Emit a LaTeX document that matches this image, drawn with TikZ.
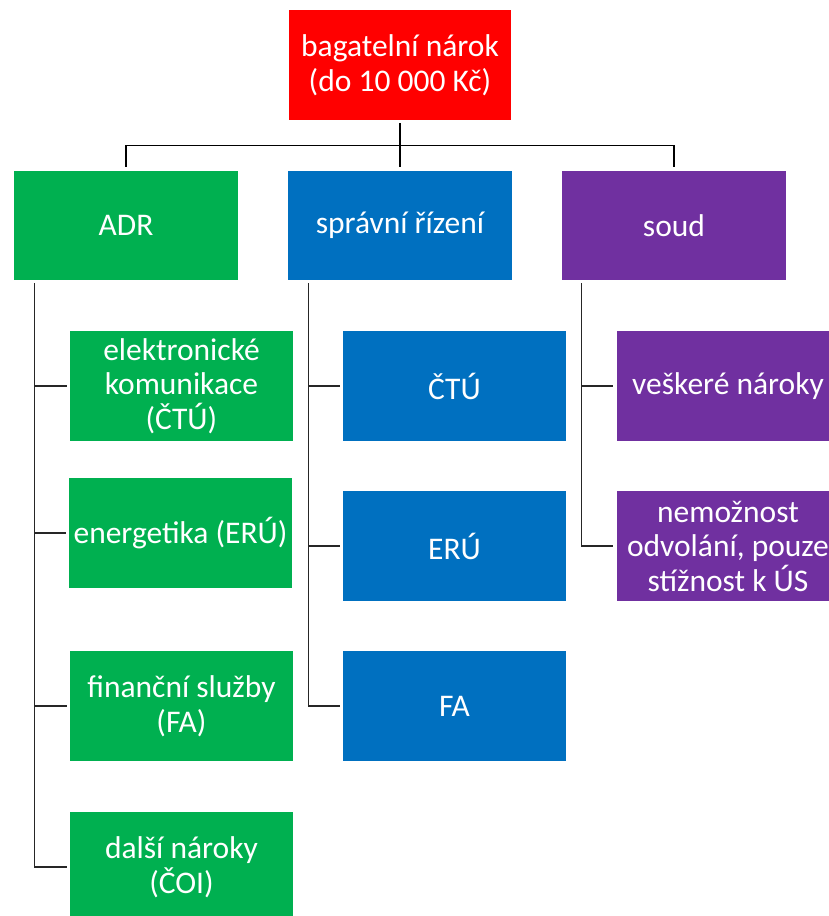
\documentclass[tikz,border=0pt]{standalone}
\usepackage{fontspec}
\setmainfont{Carlito}
\definecolor{cred}{HTML}{FF0000}
\definecolor{cgreen}{HTML}{00B050}
\definecolor{cblue}{HTML}{0070C0}
\definecolor{cpurple}{HTML}{7030A0}
\begin{document}
\begin{tikzpicture}[x=1pt,y=-1pt,
  box/.style={draw=none, text=white, align=center, inner sep=0pt,
    font=\fontsize{31.5}{34.5}\selectfont},
  topbox/.style={box, fill=cred, minimum width=222pt, minimum height=110pt},
  lvbox/.style={box, minimum width=224pt, minimum height=109pt},
  subbox/.style={box, minimum width=223pt, minimum height=110pt},
  conn/.style={draw=black, line width=1.3pt},
  subconn/.style={draw=black!85, line width=1.3pt}]
\useasboundingbox (0,0) rectangle (828,916);
\fill[white] (0,0) rectangle (828,916);

\node[topbox] (top) at (400,65) {bagatelní nárok\\(do 10 000 Kč)};

\node[lvbox, fill=cgreen] (adr) at (126,225.5) {ADR};
\node[lvbox, fill=cblue] (spr) at (400,225.5) {správní řízení};
\node[lvbox, fill=cpurple] (soud) at (674,225.5) {soud};

\node[subbox, fill=cgreen] (g1) at (181.5,386) {elektronické\\komunikace\\(ČTÚ)};
\node[subbox, fill=cgreen] (g2) at (180.5,533) {energetika (ERÚ)};
\node[subbox, fill=cgreen] (g3) at (181.5,706) {finanční služby\\(FA)};
\node[subbox, fill=cgreen] (g4) at (181.5,867) {další nároky\\(ČOI)};

\node[subbox, fill=cblue] (b1) at (454.5,386) {ČTÚ};
\node[subbox, fill=cblue] (b2) at (454.5,546) {ERÚ};
\node[subbox, fill=cblue] (b3) at (454.5,706) {FA};

\node[subbox, fill=cpurple] (p1) at (728,386) {veškeré nároky};
\node[subbox, fill=cpurple] (p2) at (728,546) {nemožnost\\odvolání, pouze\\stížnost k ÚS};

% top-level connectors
\coordinate (hub) at ([yshift=-25pt]top.south);
\draw[conn] ([yshift=-3pt]top.south) -- (hub);
\draw[conn] (hub) -| ([yshift=4pt]adr.north);
\draw[conn] (hub) -| ([yshift=4pt]soud.north);
\draw[conn] (hub) -- ([yshift=4pt]spr.north);

% sub connectors
\foreach \s in {g1,g2,g3,g4}
  \draw[subconn] ([xshift=21pt,yshift=-3pt]adr.south west) |- ([xshift=-3pt]\s.west);
\foreach \s in {b1,b2,b3}
  \draw[subconn] ([xshift=21pt,yshift=-3pt]spr.south west) |- ([xshift=-3pt]\s.west);
\foreach \s in {p1,p2}
  \draw[subconn] ([xshift=20pt,yshift=-3pt]soud.south west) |- ([xshift=-3pt]\s.west);
\end{tikzpicture}
\end{document}
